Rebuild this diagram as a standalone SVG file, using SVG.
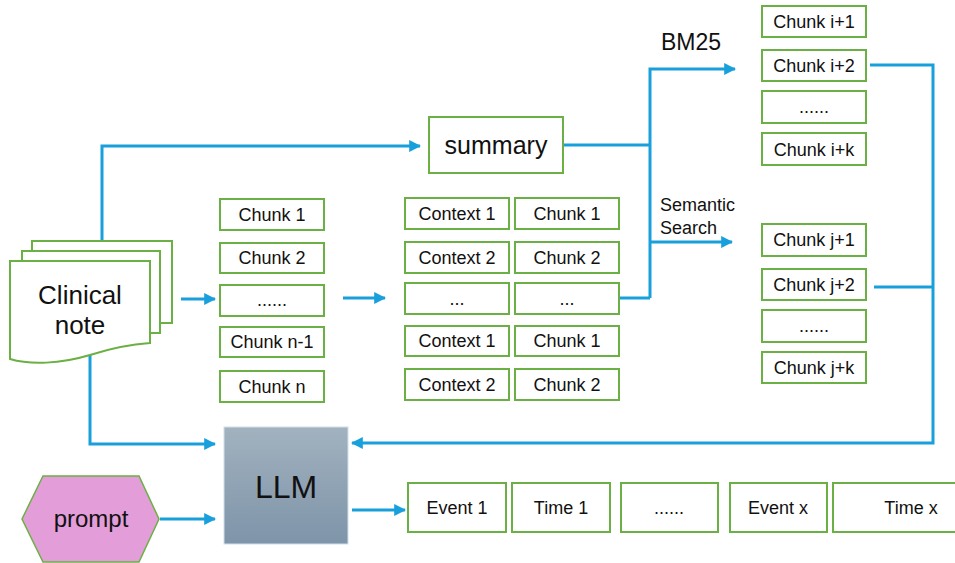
<svg xmlns="http://www.w3.org/2000/svg" width="955" height="563" viewBox="0 0 955 563">
<defs>
<style>
.b{fill:#fff;stroke:#6BB044;stroke-width:2}
.t{font-family:"Liberation Sans",Arial,sans-serif;fill:#111;text-anchor:middle}
.s{font-size:18px}
.c{fill:none;stroke:#18A0DC;stroke-width:3}
</style>
<linearGradient id="g" x1="0" y1="0" x2="0" y2="1">
<stop offset="0" stop-color="#A2B2BF"/>
<stop offset="1" stop-color="#7E94A9"/>
</linearGradient>
<marker id="a" viewBox="0 0 10 10" refX="9" refY="5" markerWidth="4" markerHeight="4" orient="auto" markerUnits="strokeWidth">
<path d="M0,0 L10,5 L0,10 Z" fill="#18A0DC"/>
</marker>
</defs>
<rect width="955" height="563" fill="#fff"/>

<g id="connectors">
<path class="c" d="M102,241 V146 H420" marker-end="url(#a)"/>
<path class="c" d="M564,145 H650"/>
<path class="c" d="M650,298 V69 H735" marker-end="url(#a)"/>
<path class="c" d="M620,298 H650"/>
<path class="c" d="M650,242 H732" marker-end="url(#a)"/>
<path class="c" d="M181,299 H215" marker-end="url(#a)"/>
<path class="c" d="M343,298 H385" marker-end="url(#a)"/>
<path class="c" d="M870,65 H933 V443 H352" marker-end="url(#a)"/>
<path class="c" d="M874,287 H933"/>
<path class="c" d="M90,355 V444 H215" marker-end="url(#a)"/>
<path class="c" d="M160,519 H215" marker-end="url(#a)"/>
<path class="c" d="M352,510 H405" marker-end="url(#a)"/>
</g>

<g id="clinical-note">
<rect class="b" x="32" y="241" width="140" height="82"/>
<rect class="b" x="22" y="251" width="138" height="82"/>
<path class="b" d="M10,261 H150 V343 C135,344 115,347 90,355 C60,364 30,365 10,359 Z"/>
<text class="t" x="80" y="304" font-size="26">Clinical</text>
<text class="t" x="80" y="334" font-size="26">note</text>
</g>

<g id="summary">
<rect class="b" x="429" y="117" width="134" height="56"/>
<text class="t" x="496" y="154" font-size="25">summary</text>
</g>

<text class="t" x="691" y="50" font-size="23">BM25</text>
<text class="t" x="660" y="211" font-size="18" style="text-anchor:start">Semantic</text>
<text class="t" x="660" y="234" font-size="18" style="text-anchor:start">Search</text>

<g id="chunks">
<g id="chunk-1"><rect class="b" x="220" y="199" width="104" height="31"/><text class="t s" x="272" y="221">Chunk 1</text></g>
<g id="chunk-2"><rect class="b" x="220" y="243" width="104" height="30"/><text class="t s" x="272" y="264">Chunk 2</text></g>
<g id="chunk-dots"><rect class="b" x="220" y="285" width="104" height="31"/><text class="t s" x="272" y="306">......</text></g>
<g id="chunk-n-1"><rect class="b" x="220" y="327" width="104" height="30"/><text class="t s" x="272" y="348">Chunk n-1</text></g>
<g id="chunk-n"><rect class="b" x="220" y="371" width="104" height="31"/><text class="t s" x="272" y="393">Chunk n</text></g>
</g>

<g id="contexts">
<g id="ctx-r1"><rect class="b" x="405" y="198" width="104" height="31"/><text class="t s" x="457" y="220">Context 1</text>
<rect class="b" x="515" y="198" width="104" height="31"/><text class="t s" x="567" y="220">Chunk 1</text></g>
<g id="ctx-r2"><rect class="b" x="405" y="242" width="104" height="31"/><text class="t s" x="457" y="264">Context 2</text>
<rect class="b" x="515" y="242" width="104" height="31"/><text class="t s" x="567" y="264">Chunk 2</text></g>
<g id="ctx-r3"><rect class="b" x="405" y="283" width="104" height="31"/><text class="t s" x="457" y="305">...</text>
<rect class="b" x="515" y="283" width="104" height="31"/><text class="t s" x="567" y="305">...</text></g>
<g id="ctx-r4"><rect class="b" x="405" y="326" width="104" height="30"/><text class="t s" x="457" y="347">Context 1</text>
<rect class="b" x="515" y="326" width="104" height="30"/><text class="t s" x="567" y="347">Chunk 1</text></g>
<g id="ctx-r5"><rect class="b" x="405" y="369" width="104" height="31"/><text class="t s" x="457" y="391">Context 2</text>
<rect class="b" x="515" y="369" width="104" height="31"/><text class="t s" x="567" y="391">Chunk 2</text></g>
</g>

<g id="bm25-results">
<g id="chunk-i1"><rect class="b" x="762" y="6" width="104" height="31"/><text class="t s" x="814" y="28">Chunk i+1</text></g>
<g id="chunk-i2"><rect class="b" x="762" y="50" width="104" height="31"/><text class="t s" x="814" y="72">Chunk i+2</text></g>
<g id="chunk-idots"><rect class="b" x="762" y="91" width="104" height="32"/><text class="t s" x="814" y="113">......</text></g>
<g id="chunk-ik"><rect class="b" x="762" y="133" width="104" height="32"/><text class="t s" x="814" y="156">Chunk i+k</text></g>
</g>

<g id="semantic-results">
<g id="chunk-j1"><rect class="b" x="762" y="224" width="104" height="32"/><text class="t s" x="814" y="246">Chunk j+1</text></g>
<g id="chunk-j2"><rect class="b" x="762" y="269" width="104" height="31"/><text class="t s" x="814" y="291">Chunk j+2</text></g>
<g id="chunk-jdots"><rect class="b" x="762" y="310" width="104" height="32"/><text class="t s" x="814" y="332">......</text></g>
<g id="chunk-jk"><rect class="b" x="762" y="352" width="104" height="31"/><text class="t s" x="814" y="374">Chunk j+k</text></g>
</g>

<g id="llm">
<rect x="224" y="427" width="124" height="117" fill="url(#g)" stroke="#CFE0EE" stroke-width="1"/>
<text class="t" x="286" y="498" font-size="32">LLM</text>
</g>

<g id="prompt">
<polygon points="22,519 43,476 139,476 159,519 139,562 43,562" fill="#E39EDA" stroke="#6BB044" stroke-width="1.5"/>
<text class="t" x="91" y="527" font-size="24">prompt</text>
</g>

<g id="outputs">
<g id="event-1"><rect class="b" x="408" y="483" width="98" height="49"/><text class="t s" x="457" y="514">Event 1</text></g>
<g id="time-1"><rect class="b" x="512" y="483" width="98" height="49"/><text class="t s" x="561" y="514">Time 1</text></g>
<g id="out-dots"><rect class="b" x="621" y="483" width="97" height="49"/><text class="t s" x="669" y="514">......</text></g>
<g id="event-x"><rect class="b" x="730" y="483" width="97" height="49"/><text class="t s" x="778" y="514">Event x</text></g>
<g id="time-x"><rect class="b" x="833" y="483" width="130" height="49"/><text class="t s" x="911" y="514">Time x</text></g>
</g>
</svg>
